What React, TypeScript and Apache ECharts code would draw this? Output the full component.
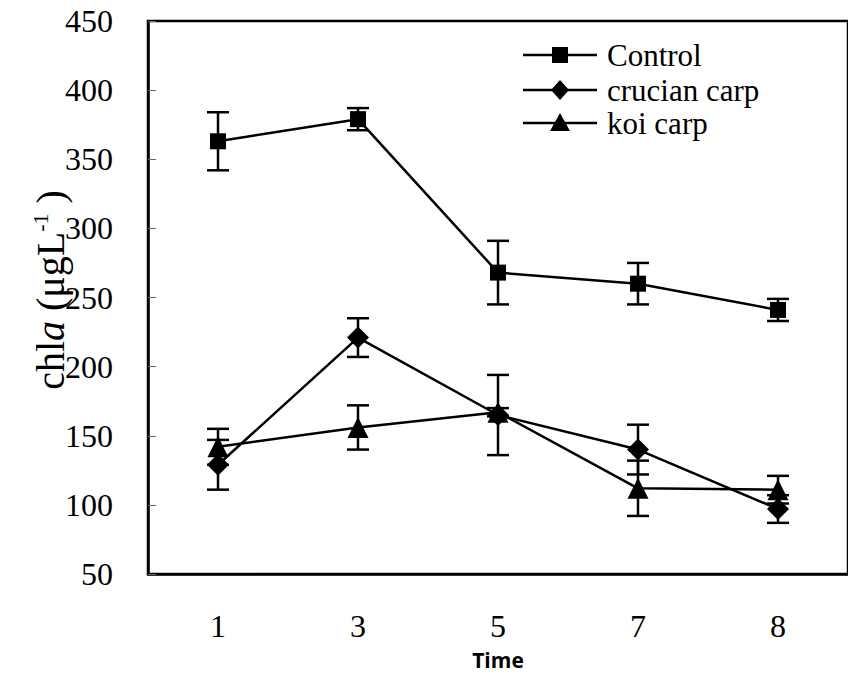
import React, { useEffect, useRef } from "react";
import * as echarts from "echarts";

const categories = ["1", "3", "5", "7", "8"];
const yTicks = { min: 50, max: 450, interval: 50 };
const legendNames = ["Control", "crucian carp", "koi carp"];

const controlMean = [363, 379, 268, 260, 241];
const controlErr = [21, 8, 23, 15, 8];
const crucianMean = [129, 221, 165, 140, 97];
const crucianErr = [18, 14, 29, 18, 10];
const koiMean = [142, 156, 167, 112, 111];
const koiErr = [13, 16, 3, 20, 10];

const SERIF = "Liberation Serif";

function errData(mean: number[], err: number[]) {
  return mean.map((m, i) => [i, m - err[i], m + err[i]]);
}

function errorSeries(name: string, mean: number[], err: number[]) {
  return {
    type: "custom",
    name: name + "-err",
    silent: true,
    z: 2,
    encode: { x: 0, y: [1, 2] },
    data: errData(mean, err),
    renderItem: (params: any, api: any) => {
      const x = api.value(0);
      const top = api.coord([x, api.value(2)]);
      const bot = api.coord([x, api.value(1)]);
      const hw = 11;
      const style = { stroke: "#000", lineWidth: 2.5 };
      return {
        type: "group",
        children: [
          { type: "line", shape: { x1: top[0], y1: top[1], x2: bot[0], y2: bot[1] }, style },
          { type: "line", shape: { x1: top[0] - hw, y1: top[1], x2: top[0] + hw, y2: top[1] }, style },
          { type: "line", shape: { x1: bot[0] - hw, y1: bot[1], x2: bot[0] + hw, y2: bot[1] }, style },
        ],
      };
    },
  };
}

function lineSeries(name: string, mean: number[], symbol: string, size: number) {
  return {
    type: "line",
    name,
    data: mean,
    symbol,
    symbolSize: size,
    z: 3,
    itemStyle: { color: "#000" },
    lineStyle: { color: "#000", width: 2.5 },
  };
}

function legendGraphic() {
  const x0 = 523;
  const x1 = 597;
  const cx = 560;
  const rows = [55, 90, 123];
  const out: any[] = [];
  legendNames.forEach((name, i) => {
    const y = rows[i];
    out.push({
      type: "line",
      shape: { x1: x0, y1: y, x2: x1, y2: y },
      style: { stroke: "#000", lineWidth: 2.5 },
      z: 10,
    });
    let marker: any;
    if (i === 0) {
      marker = { type: "rect", shape: { x: cx - 8, y: y - 8, width: 16, height: 16 }, style: { fill: "#000" } };
    } else if (i === 1) {
      marker = {
        type: "polygon",
        shape: { points: [[cx, y - 10], [cx + 9, y], [cx, y + 10], [cx - 9, y]] },
        style: { fill: "#000" },
      };
    } else {
      marker = {
        type: "polygon",
        shape: { points: [[cx, y - 10], [cx + 10, y + 8], [cx - 10, y + 8]] },
        style: { fill: "#000" },
      };
    }
    marker.z = 11;
    out.push(marker);
    out.push({
      type: "text",
      x: 607,
      y: y,
      z: 11,
      style: {
        text: name,
        fontFamily: SERIF,
        fontSize: 31,
        fill: "#000",
        align: "left",
        verticalAlign: "middle",
      },
    });
  });
  return out;
}

export default function App() {
  const ref = useRef<HTMLDivElement>(null);
  useEffect(() => {
    if (!ref.current) return;
    const chart = echarts.init(ref.current, undefined, { renderer: "svg" });
    chart.setOption({
      animation: false,
      backgroundColor: "#fff",
      textStyle: { fontFamily: SERIF },
      grid: {
        left: 148,
        top: 21,
        bottom: 104,
        right: -9,
        show: true,
        borderColor: "#000",
        borderWidth: 2.5,
      },
      xAxis: {
        type: "category",
        data: categories,
        name: "Time",
        nameLocation: "middle",
        nameGap: 75,
        nameTextStyle: {
          fontFamily: "Open Sans",
          fontWeight: "bold",
          fontSize: 21,
          color: "#000",
        },
        axisLine: { lineStyle: { color: "#000", width: 2.5 } },
        axisTick: { inside: true, length: 8, lineStyle: { color: "#666", width: 1 } },
        axisLabel: { fontFamily: SERIF, color: "#000", fontSize: 32, margin: 36 },
        splitLine: { show: false },
      },
      yAxis: {
        type: "value",
        min: yTicks.min,
        max: yTicks.max,
        interval: yTicks.interval,
        axisLine: { show: true, lineStyle: { color: "#000", width: 2.5 } },
        axisTick: { show: true, inside: true, length: 8, lineStyle: { color: "#666", width: 1 } },
        axisLabel: { fontFamily: SERIF, color: "#000", fontSize: 32, margin: 35 },
        splitLine: { show: false },
      },
      graphic: [
        {
          type: "text",
          x: 50,
          y: 290,
          rotation: Math.PI / 2,
          style: {
            text: "{n|chl}{a|a}{n| (μgL}{sup|-1}{n| )}",
            fontFamily: SERIF,
            fontSize: 40,
            fill: "#000",
            align: "center",
            verticalAlign: "middle",
            rich: {
              n: { fontFamily: SERIF, fontSize: 40, fill: "#000" },
              a: { fontFamily: SERIF, fontSize: 40, fontStyle: "italic", fill: "#000" },
              sup: { fontFamily: SERIF, fontSize: 22, fill: "#000", verticalAlign: "top", padding: [0, 0, 20, 0] },
            },
          },
        },
        ...legendGraphic(),
      ],
      series: [
        errorSeries("Control", controlMean, controlErr),
        errorSeries("crucian carp", crucianMean, crucianErr),
        errorSeries("koi carp", koiMean, koiErr),
        lineSeries("Control", controlMean, "rect", 16),
        lineSeries("crucian carp", crucianMean, "diamond", 22),
        lineSeries("koi carp", koiMean, "triangle", 21),
      ],
    });
    return () => chart.dispose();
  }, []);
  return (
    <div
      ref={ref}
      style={{ position: "absolute", left: 0, top: 0, width: 848, height: 678, overflow: "hidden" }}
    />
  );
}
